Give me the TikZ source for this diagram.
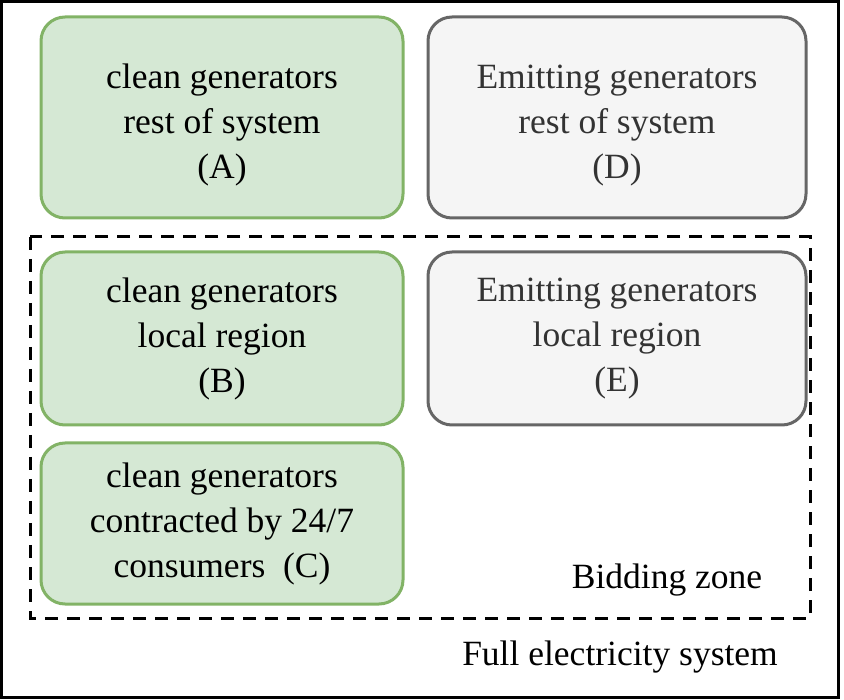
\documentclass[tikz,border=0pt]{standalone}
\usepackage{fontspec}
\setmainfont{Liberation Serif}
\usepackage{xcolor}
\usepackage{tikz}
\usetikzlibrary{positioning}
\definecolor{cleanfill}{HTML}{D5E8D4}
\definecolor{cleanline}{HTML}{82B366}
\definecolor{emitfill}{HTML}{F5F5F5}
\definecolor{emitline}{HTML}{666666}
\definecolor{emittext}{HTML}{333333}
\newcommand{\boxlift}{\rule{0pt}{39pt}}

\begin{document}
\begin{tikzpicture}[
    x=1pt, y=-1pt,
    box/.style={rectangle, draw, rounded corners=24pt, line width=3pt, align=center, inner sep=0pt,
        font=\fontsize{35.5}{45}\selectfont},
    clean/.style={box, fill=cleanfill, draw=cleanline, minimum width=362pt},
    emitting/.style={box, fill=emitfill, draw=emitline, text=emittext, minimum width=378pt},
    label/.style={font=\fontsize{35.5}{45}\selectfont, inner sep=0pt}
]
    \useasboundingbox (0,0) rectangle (844,700);

    % Full electricity system
    \draw[line width=3.5pt] (1.5,1.5) rectangle (838.5,697.5);

    % Bidding zone
    \draw[line width=3pt, dash pattern=on 13pt off 9pt] (30,237) rectangle (810,618);

    % Clean generators
    \node[clean, minimum height=201pt] (A) at (222,117.5) {\boxlift clean generators\\rest of system\\(A)};
    \node[clean, minimum height=173pt, below=31pt of A] (B) {clean generators\\local region\\(B)};
    \node[clean, minimum height=161pt, below=15pt of B] (C) {clean generators\\contracted by 24/7\\consumers\ \ (C)};

    % Emitting generators
    \node[emitting, minimum height=201pt, right=22pt of A] (D) {\boxlift Emitting generators\\rest of system\\(D)};
    \node[emitting, minimum height=173pt, right=22pt of B] (E) {Emitting generators\\local region\\(E)};

    % Labels
    \node[label] (zone) at (667,580) {Bidding zone};
    \node[label] (system) at (620,657) {Full electricity system};
\end{tikzpicture}
\end{document}
